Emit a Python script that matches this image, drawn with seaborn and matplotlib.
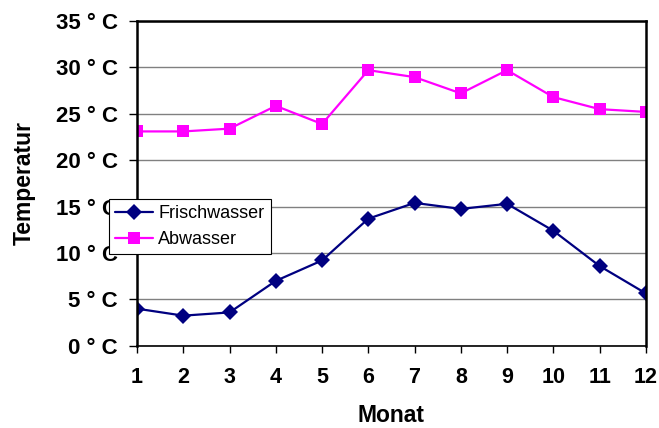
import matplotlib
matplotlib.use("Agg")
import matplotlib.pyplot as plt
import seaborn as sns
import pandas as pd
from matplotlib.lines import Line2D

months = [1, 2, 3, 4, 5, 6, 7, 8, 9, 10, 11, 12]
frischwasser = [4.0, 3.25, 3.6, 7.0, 9.2, 13.7, 15.4, 14.75, 15.3, 12.4, 8.6, 5.65]
abwasser = [23.1, 23.1, 23.4, 25.85, 23.9, 29.7, 28.95, 27.2, 29.7, 26.8, 25.5, 25.2]
y_ticks = [0, 5, 10, 15, 20, 25, 30, 35]
y_tick_labels = [f"{v} ° C" for v in y_ticks]

sns.set_theme(style="white")
plt.rcParams['font.family'] = ['Liberation Sans', 'DejaVu Sans']
plt.rcParams.update({"text.color": "black", "axes.labelcolor": "black",
                     "xtick.color": "black", "ytick.color": "black"})

df = pd.DataFrame({
    "Monat": months * 2,
    "Temperatur": frischwasser + abwasser,
    "Serie": ["Frischwasser"] * 12 + ["Abwasser"] * 12,
})

fig = plt.figure(figsize=(6.59, 4.28), dpi=100)
ax = fig.add_axes([0.208, 0.192, 0.772, 0.759])

sns.lineplot(data=df, x="Monat", y="Temperatur", hue="Serie", style="Serie",
             palette={"Frischwasser": "#000080", "Abwasser": "#FF00FF"},
             markers={"Frischwasser": "D", "Abwasser": "s"},
             dashes=False, markersize=8, linewidth=1.6, markeredgewidth=0,
             ax=ax, legend=False)

ax.set_xlim(1, 12)
ax.set_ylim(0, 35)
ax.set_xticks(months)
ax.set_xticklabels([str(m) for m in months], fontsize=15.5, fontweight="bold")
ax.set_yticks(y_ticks)
ax.set_yticklabels(y_tick_labels, fontsize=16, fontweight="bold")
ax.yaxis.grid(True, color="#808080", linewidth=1.0)
ax.set_axisbelow(True)
ax.tick_params(axis="y", direction="out", length=6, width=1, color="black",
               left=True, pad=8)
ax.tick_params(axis="x", direction="out", length=5, width=1, color="black",
               bottom=True, pad=10)
for side in ["left", "bottom", "top", "right"]:
    ax.spines[side].set_visible(True)
    ax.spines[side].set_color("black")
ax.spines["left"].set_linewidth(1.8)
ax.spines["bottom"].set_linewidth(1.2)
ax.spines["top"].set_linewidth(1.8)
ax.spines["right"].set_linewidth(1.8)

ax.set_xlabel("Monat", fontsize=16.5, fontweight="bold", labelpad=12)
ax.set_ylabel("Temperatur", fontsize=16.5, fontweight="bold", labelpad=14)

handles = [
    Line2D([], [], color="#000080", marker="D", markersize=8, linewidth=1.6, markeredgewidth=0),
    Line2D([], [], color="#FF00FF", marker="s", markersize=8, linewidth=1.6, markeredgewidth=0),
]
leg = ax.legend(handles, ["Frischwasser", "Abwasser"], loc="lower left",
                bbox_to_anchor=(-0.056, 0.282), frameon=True, fancybox=False,
                edgecolor="black", framealpha=1, fontsize=13, borderpad=0.35,
                handlelength=2.1, handletextpad=0.3, labelspacing=0.5,
                borderaxespad=0)
leg.get_frame().set_linewidth(0.8)

fig.savefig("out.png", dpi=100)
